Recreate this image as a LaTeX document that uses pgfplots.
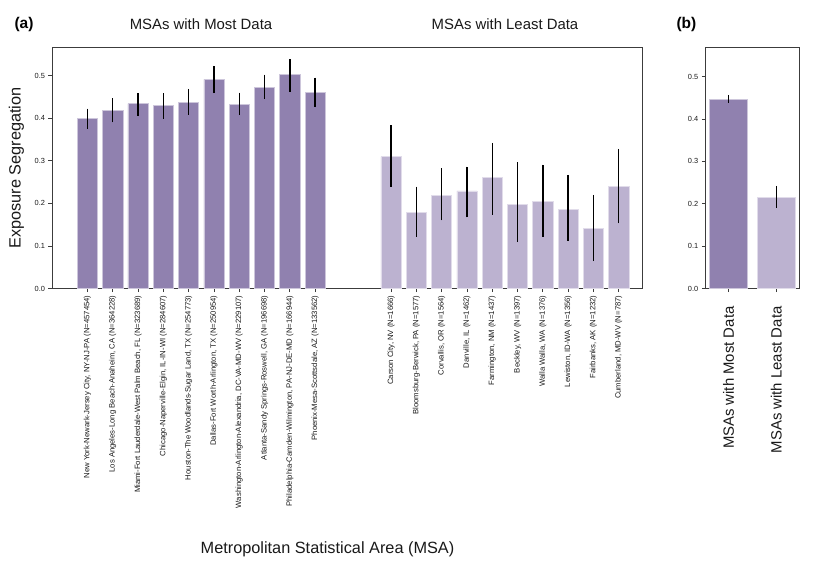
\documentclass[border=0pt]{standalone}
\usepackage{fontspec}
\setmainfont{Liberation Sans}
\usepackage{pgfplots}
\usepackage{pgfplotstable}
\pgfplotsset{compat=1.18}

\definecolor{darkp}{RGB}{144,129,175}
\definecolor{lightp}{RGB}{188,178,208}
\definecolor{spine}{RGB}{60,60,60}
\definecolor{txt}{RGB}{25,25,25}

% x: position, y: mean, ep/em: upper/lower error
\pgfplotstableread{
x  y     ep     em
0  0.400 0.0225 0.025
1  0.419 0.028  0.029
2  0.434 0.025  0.029
3  0.430 0.029  0.031
4  0.437 0.032  0.029
5  0.491 0.032  0.032
6  0.432 0.028  0.025
7  0.473 0.029  0.028
8  0.502 0.036  0.040
9  0.460 0.035  0.034
}\mostdata

\pgfplotstableread{
x   y     ep    em
12  0.310 0.073 0.071
13  0.178 0.061 0.057
14  0.219 0.063 0.059
15  0.229 0.057 0.062
16  0.260 0.082 0.087
17  0.198 0.098 0.089
18  0.204 0.087 0.083
19  0.185 0.082 0.074
20  0.142 0.078 0.078
21  0.239 0.089 0.086
}\leastdata

\pgfplotstableread{
x  y     ep    em
0  0.447 0.010 0.009
}\groupmost
\pgfplotstableread{
x  y     ep    em
1  0.215 0.027 0.024
}\groupleast

\pgfplotsset{
  panel/.style={
    scale only axis, anchor=south west,
    ymin=0,
    ytick={0,0.1,0.2,0.3,0.4,0.5},
    yticklabel style={font=\fontsize{7.4}{8}\selectfont, color=txt,
      /pgf/number format/.cd, fixed, fixed zerofill, precision=1, assume math mode=true},
    tick pos=left, tick align=outside, major tick length=3.5pt,
    axis line style={spine, line width=0.8pt},
    tick style={spine, line width=0.8pt},
    clip=false,
  },
  msabar/.style={ybar, bar width=0.8, bar shift=0pt, fill=#1, draw=white!55!#1, line width=0.6pt,
    error bars/.cd, y dir=both, y explicit, error mark=none,
    error bar style={black, line width=1.4pt}},
}

\begin{document}
\begin{tikzpicture}
\useasboundingbox (0pt,0pt) rectangle (831pt,563pt);

\begin{axis}[panel,
  at={(52pt,274.5pt)}, width=590pt, height=241pt,
  xmin=-1.4, xmax=21.92, ymax=0.566,
  xtick={0,1,2,3,4,5,6,7,8,9,12,13,14,15,16,17,18,19,20,21},
  xticklabels={
    {New York-Newark-Jersey City, NY-NJ-PA (N=457454)},
    {Los Angeles-Long Beach-Anaheim, CA (N=364228)},
    {Miami-Fort Lauderdale-West Palm Beach, FL (N=323689)},
    {Chicago-Naperville-Elgin, IL-IN-WI (N=284607)},
    {Houston-The Woodlands-Sugar Land, TX (N=254773)},
    {Dallas-Fort Worth-Arlington, TX (N=250954)},
    {Washington-Arlington-Alexandria, DC-VA-MD-WV (N=229107)},
    {Atlanta-Sandy Springs-Roswell, GA (N=196698)},
    {Philadelphia-Camden-Wilmington, PA-NJ-DE-MD (N=166944)},
    {Phoenix-Mesa-Scottsdale, AZ (N=133562)},
    {Carson City, NV (N=1666)},
    {Bloomsburg-Berwick, PA (N=1577)},
    {Corvallis, OR (N=1564)},
    {Danville, IL (N=1462)},
    {Farmington, NM (N=1437)},
    {Beckley, WV (N=1397)},
    {Walla Walla, WA (N=1376)},
    {Lewiston, ID-WA (N=1356)},
    {Fairbanks, AK (N=1232)},
    {Cumberland, MD-WV (N=787)}},
  xticklabel style={rotate=90, anchor=east, font=\fontsize{7.7}{8}\selectfont, color=txt},
]
  \addplot[msabar=darkp] table[x=x, y=y, y error plus=ep, y error minus=em] {\mostdata};
  \addplot[msabar=lightp] table[x=x, y=y, y error plus=ep, y error minus=em] {\leastdata};
\end{axis}

\begin{axis}[panel,
  at={(705.3pt,274.5pt)}, width=94.4pt, height=241pt,
  xmin=-0.49, xmax=1.49, ymax=0.569,
  xtick={0,1},
  xticklabels={MSAs with Most Data, MSAs with Least Data},
  xticklabel shift=11pt,
  xticklabel style={rotate=90, anchor=east, font=\fontsize{14.9}{16}\selectfont, color=txt},
]
  \addplot[msabar=darkp] table[x=x, y=y, y error plus=ep, y error minus=em] {\groupmost};
  \addplot[msabar=lightp] table[x=x, y=y, y error plus=ep, y error minus=em] {\groupleast};
\end{axis}

\node[anchor=base, font=\fontsize{14.9}{16}\selectfont, color=txt] at (201pt,533pt) {MSAs with Most Data};
\node[anchor=base, font=\fontsize{14.9}{16}\selectfont, color=txt] at (505pt,533pt) {MSAs with Least Data};
\node[anchor=base west, font=\fontsize{15.5}{17}\selectfont\bfseries] at (11pt,534.6pt) {(a)};
\node[anchor=base west, font=\fontsize{15.5}{17}\selectfont\bfseries] at (673pt,534.6pt) {(b)};
\node[anchor=base, font=\fontsize{16.3}{18}\selectfont, color=txt] at (327.5pt,9.7pt) {Metropolitan Statistical Area (MSA)};
\node[rotate=90, anchor=center, font=\fontsize{16.3}{18}\selectfont, color=txt] at (16.5pt,395pt) {Exposure Segregation};
\end{tikzpicture}
\end{document}
